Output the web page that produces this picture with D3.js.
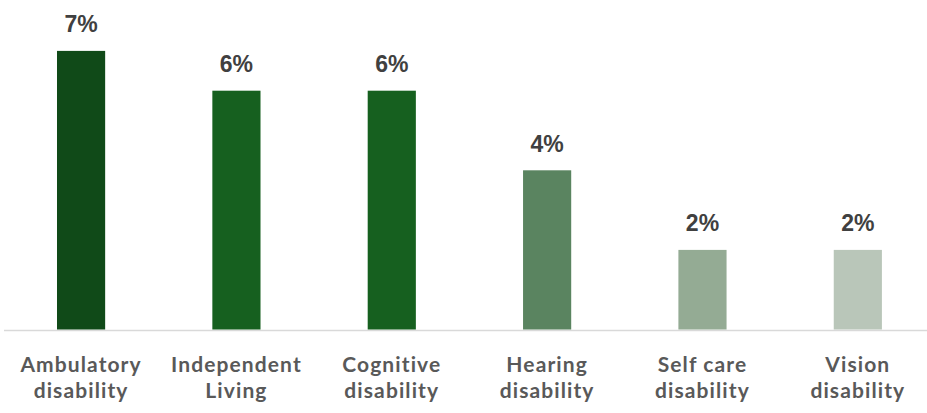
<!DOCTYPE html>
<html>
<head>
<meta charset="utf-8">
<script src="https://cdn.jsdelivr.net/npm/d3@7"></script>
<style>
  html, body { margin: 0; padding: 0; background: #ffffff; }
  svg { display: block; }
</style>
</head>
<body>
<svg id="chart" width="927" height="413"></svg>
<script>
const categories = [
  ["Ambulatory", "disability"],
  ["Independent", "Living"],
  ["Cognitive", "disability"],
  ["Hearing", "disability"],
  ["Self care", "disability"],
  ["Vision", "disability"]
];
const values = [7, 6, 6, 4, 2, 2];
const valueLabels = ["7%", "6%", "6%", "4%", "2%", "2%"];
const colors = ["#104a18", "#16601f", "#16601f", "#5a8460", "#94ab94", "#b9c6b9"];

const svg = d3.select("#chart");
const keys = categories.map(c => c.join(" "));

const x = d3.scaleBand()
  .domain(keys)
  .range([3.4, 3.4 + 6 * 155.35])
  .paddingInner(0.69)
  .paddingOuter(0.345);

const y = d3.scaleLinear()
  .domain([0, 8])
  .range([329.5, 329.5 - 8 * 39.8]);

// baseline
svg.append("line")
  .attr("x1", 4).attr("x2", 927)
  .attr("y1", y(0) + 1).attr("y2", y(0) + 1)
  .attr("stroke", "#d9d9d9").attr("stroke-width", 1.5);

// bars
svg.selectAll("rect.bar")
  .data(values)
  .join("rect")
  .attr("class", "bar")
  .attr("x", (d, i) => x(keys[i]))
  .attr("y", d => y(d))
  .attr("width", x.bandwidth())
  .attr("height", d => y(0) - y(d))
  .attr("fill", (d, i) => colors[i]);

// value labels
svg.selectAll("text.val")
  .data(values)
  .join("text")
  .attr("class", "val")
  .attr("x", (d, i) => x(keys[i]) + x.bandwidth() / 2)
  .attr("y", d => y(d) - 18.5)
  .attr("text-anchor", "middle")
  .attr("font-family", "'Liberation Sans', Arial, sans-serif")
  .attr("font-weight", "bold")
  .attr("font-size", 23)
  .attr("fill", "#404040")
  .text((d, i) => valueLabels[i]);

// category labels
const cat = svg.selectAll("text.cat")
  .data(categories)
  .join("text")
  .attr("class", "cat")
  .attr("x", (d, i) => x(keys[i]) + x.bandwidth() / 2)
  .attr("y", 372)
  .attr("text-anchor", "middle")
  .attr("font-family", "Lato, 'Open Sans', sans-serif")
  .attr("font-weight", "bold")
  .attr("font-size", 21)
  .attr("letter-spacing", 1.1)
  .attr("fill", "#595959");

cat.selectAll("tspan")
  .data(d => d)
  .join("tspan")
  .attr("x", function() { return d3.select(this.parentNode).attr("x"); })
  .attr("dy", (d, j) => j === 0 ? 0 : 25.5)
  .text(d => d);
</script>
</body>
</html>
